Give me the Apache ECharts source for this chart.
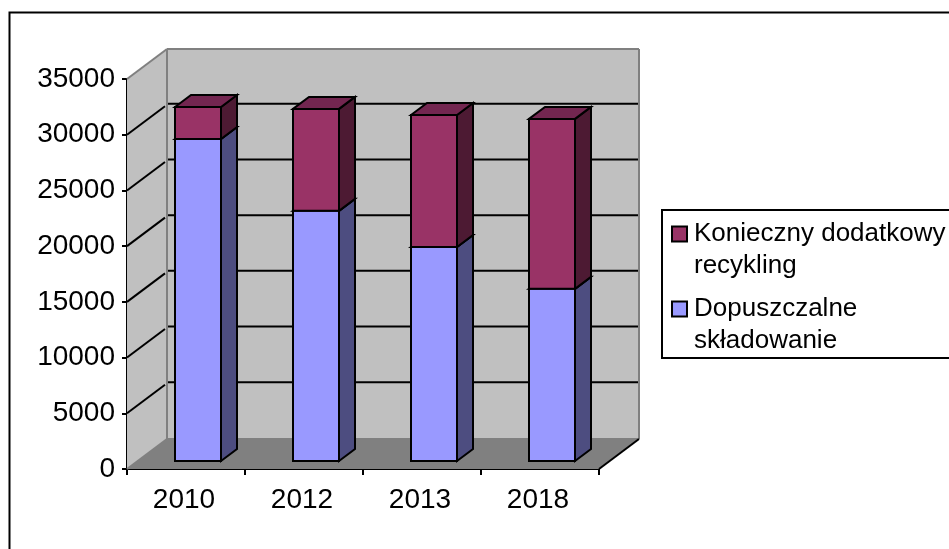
<!DOCTYPE html>
<html><head><meta charset="utf-8">
<style>html,body{margin:0;padding:0;background:#fff}#c{width:949px;height:549px}</style>
<script src="https://cdn.jsdelivr.net/npm/echarts@6/dist/echarts.min.js"></script></head>
<body><div id="c"></div>
<script>
const categories = ['2010','2012','2013','2018'];
const dopuszczalne = [28900,22450,19200,15450];
const konieczny = [2870,9150,11850,15250];
const yTicks = [0,5000,10000,15000,20000,25000,30000,35000];
const nameA = 'Konieczny dodatkowy\nrecykling';
const nameB = 'Dopuszczalne\nskładowanie';

const FONT = 'Liberation Sans, Arial, sans-serif';
const WALL = [40,-30], BAR_START = [12,-8], BAR_DEPTH = [16,-12], BAR_W = 46;
const LEGEND_ICON = 'path://M0 0H15V15H0Z M0 47L0 47';

function wallItem(params, api){
  const band = api.size([1,0])[0];
  const xL = api.coord([0,0])[0]-band/2, xR = api.coord([categories.length-1,0])[0]+band/2;
  const y0 = api.coord([0,0])[1], yT = api.coord([0,yTicks[yTicks.length-1]])[1];
  const [dx,dy] = WALL;
  const kids = [];
  const poly = (pts,fill)=>({type:'polygon',shape:{points:pts},style:{fill:fill,stroke:null}});
  const seg = (a,b,c,w)=>({type:'line',shape:{x1:a[0],y1:a[1],x2:b[0],y2:b[1]},style:{stroke:c,lineWidth:w||2}});
  kids.push(poly([[xL,yT],[xL+dx,yT+dy],[xR+dx,yT+dy],[xR+dx,y0+dy],[xL+dx,y0+dy],[xL,y0]],'#C0C0C0'));
  kids.push(poly([[xL,y0],[xL+dx,y0+dy],[xR+dx,y0+dy],[xR,y0]],'#808080'));
  yTicks.forEach((t,i)=>{
    if(i===0||i===yTicks.length-1) return;
    const y = api.coord([0,t])[1];
    kids.push(seg([xL,y],[xL+dx-2,y+dy+1.5],'#000'));
    kids.push(seg([xL+dx+1,y+dy-1],[xR+dx-1,y+dy-1],'#000'));
  });
  kids.push(seg([xL,yT],[xL+dx,yT+dy],'#808080'));
  kids.push(seg([xL+dx,yT+dy],[xR+dx,yT+dy],'#808080'));
  kids.push(seg([xL+dx,yT+dy],[xL+dx,y0+dy],'#808080'));
  kids.push(seg([xR+dx,yT+dy],[xR+dx,y0+dy],'#808080'));
  kids.push(seg([xL+dx,y0+dy],[xR+dx,y0+dy],'#808080'));
  kids.push(seg([xL,y0],[xL+dx,y0+dy],'#808080'));
  kids.push(seg([xR,y0],[xR+dx,y0+dy],'#000'));
  return {type:'group',children:kids};
}

function barItem(front,side,top,baseArr){
  return function(params, api){
    const i = api.value(0), v = api.value(1);
    const base = baseArr ? baseArr[i] : 0;
    const c0 = api.coord([i,base]), c1 = api.coord([i,base+v]);
    const x1 = c0[0]+BAR_START[0]-BAR_W/2, x2 = x1+BAR_W;
    const yb = c0[1]+BAR_START[1], yt = c1[1]+BAR_START[1];
    const [dx,dy] = BAR_DEPTH;
    const st = (f)=>({fill:f,stroke:'#000',lineWidth:2,lineJoin:'miter'});
    return {type:'group',children:[
      {type:'polygon',shape:{points:[[x2,yb],[x2+dx,yb+dy],[x2+dx,yt+dy],[x2,yt]]},style:st(side)},
      {type:'polygon',shape:{points:[[x1,yt],[x1+dx,yt+dy],[x2+dx,yt+dy],[x2,yt]]},style:st(top)},
      {type:'polygon',shape:{points:[[x1,yb],[x2,yb],[x2,yt],[x1,yt]]},style:st(front)}
    ]};
  };
}

const chart = echarts.init(document.getElementById('c'),null,{renderer:'canvas'});
chart.setOption({
  animation:false,
  backgroundColor:'#fff',
  grid:{left:127,top:79,width:472,height:390,containLabel:false},
  xAxis:{type:'category',data:categories,
    axisLine:{show:true,onZero:false,lineStyle:{color:'#000',width:2}},
    axisTick:{show:true,alignWithLabel:false,length:6,lineStyle:{color:'#000',width:2}},
    axisLabel:{color:'#000',fontFamily:FONT,fontSize:28,margin:17,padding:[0,4,0,0]},
    splitLine:{show:false}},
  yAxis:{type:'value',min:0,max:35000,interval:5000,
    axisLine:{show:true,lineStyle:{color:'#000',width:2}},
    axisTick:{show:true,length:5,lineStyle:{color:'#000',width:2}},
    axisLabel:{color:'#000',fontFamily:FONT,fontSize:28,margin:12,formatter:v=>String(v)},
    splitLine:{show:false}},
  legend:{
    data:[nameA,nameB],orient:'vertical',left:662,top:210,
    itemWidth:15,itemHeight:47,itemGap:9,icon:LEGEND_ICON,
    borderColor:'#000',borderWidth:2,backgroundColor:'#fff',
    padding:[7,30,0,9],
    textStyle:{color:'#000',fontFamily:FONT,fontSize:26,lineHeight:32,padding:[2,0,0,2]},
    selectedMode:false
  },
  graphic:[{type:'rect',z:-1,silent:true,shape:{x:9.5,y:12.5,width:1000,height:600},style:{fill:'none',stroke:'#000',lineWidth:2}}],
  series:[
    {type:'custom',name:'walls',z:1,silent:true,data:[[0,0]],renderItem:wallItem,clip:false,encode:{x:0,y:1}},
    {type:'custom',name:nameB,z:3,data:dopuszczalne.map((v,i)=>[i,v]),clip:false,encode:{x:0,y:1},
     itemStyle:{color:'#9999FF',borderColor:'#000',borderWidth:2},
     renderItem:barItem('#9999FF','#4D4D80','#7A7ACC',null)},
    {type:'custom',name:nameA,z:4,data:konieczny.map((v,i)=>[i,v]),clip:false,encode:{x:0,y:1},
     itemStyle:{color:'#993366',borderColor:'#000',borderWidth:2},
     renderItem:barItem('#993366','#4D1A33','#732650',dopuszczalne)}
  ]
});
</script></body></html>
